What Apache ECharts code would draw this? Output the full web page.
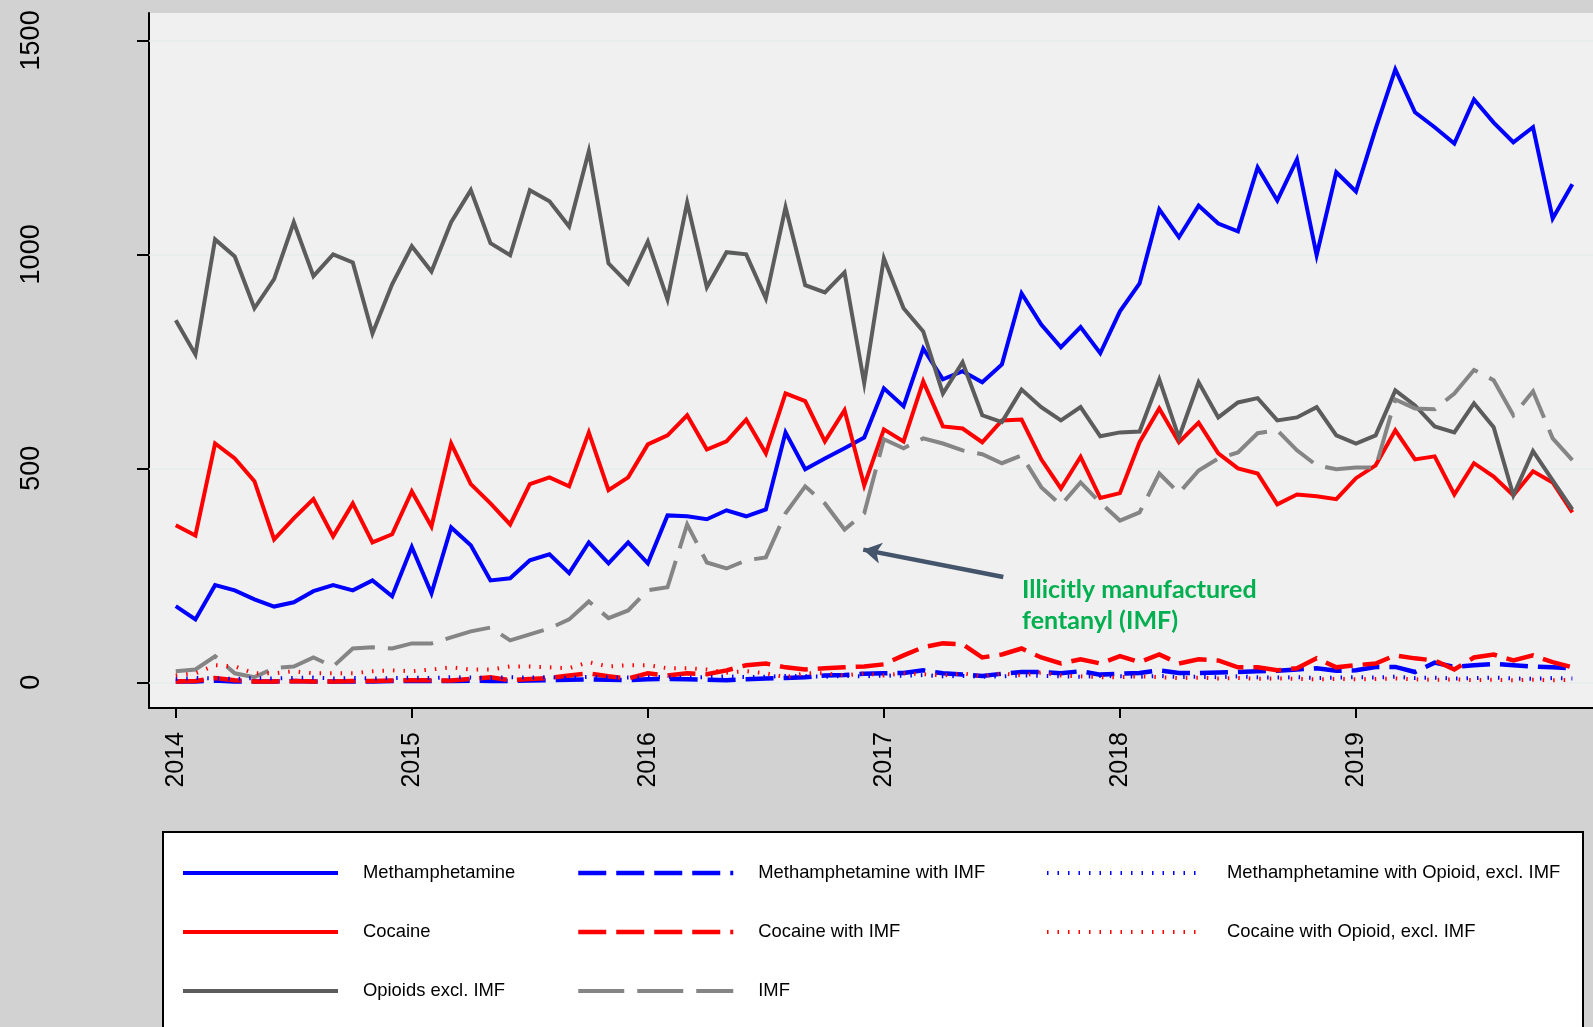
<!DOCTYPE html>
<html>
<head>
<meta charset="utf-8">
<script src="https://cdn.jsdelivr.net/npm/echarts@6/dist/echarts.min.js"></script>
<style>
  html, body { margin: 0; padding: 0; background: #d2d2d2; }
  #chart { width: 1593px; height: 1027px; }
</style>
</head>
<body>
<div id="chart"></div>
<script>
// monthly counts, Jan 2014 .. Dec 2019 (index 0..71)
const yearTicks = [0, 12, 24, 36, 48, 60];
const yearLabels = ["2014", "2015", "2016", "2017", "2018", "2019"];
const valueTicks = [0, 500, 1000, 1500];

const meth = [178, 147, 227, 215, 194, 177, 187, 213, 227, 215, 238, 201,
  316, 208, 362, 320, 238, 243, 285, 299, 255, 327, 278, 327,
  278, 390, 388, 381, 402, 388, 404, 584, 498, 523, 547, 572,
  687, 645, 780, 708, 727, 701, 743, 909, 836, 783, 830, 769,
  867, 932, 1105, 1040, 1114, 1072, 1054, 1203, 1126, 1222, 998, 1192,
  1147, 1294, 1432, 1332, 1297, 1259, 1362, 1308, 1262, 1297, 1084, 1164];

const cocaine = [367, 343, 558, 523, 470, 334, 383, 428, 341, 418, 327, 346,
  446, 364, 558, 463, 418, 369, 463, 479, 458, 584, 449, 479,
  556, 577, 624, 544, 563, 614, 535, 675, 657, 563, 636, 460,
  591, 563, 703, 598, 593, 561, 612, 614, 521, 453, 527, 431,
  442, 561, 640, 561, 607, 535, 500, 488, 416, 439, 435, 428,
  477, 507, 589, 521, 528, 439, 512, 481, 437, 493, 467, 397];

const opioids = [846, 766, 1035, 995, 874, 942, 1075, 949, 1000, 981, 815, 930,
  1019, 960, 1075, 1150, 1026, 998, 1150, 1124, 1065, 1241, 979, 932,
  1030, 895, 1121, 923, 1005, 1000, 897, 1110, 928, 911, 958, 699,
  991, 874, 820, 675, 748, 624, 608, 684, 643, 612, 643, 575,
  584, 586, 708, 572, 701, 619, 654, 664, 612, 619, 643, 577,
  558, 577, 682, 647, 598, 584, 652, 596, 437, 540, 472, 404];

const imf = [26, 30, 61, 21, 12, 33, 37, 58, 37, 79, 82, 79,
  91, 91, 105, 119, 128, 98, 112, 126, 147, 189, 150, 168,
  215, 222, 369, 280, 266, 285, 292, 395, 458, 418, 357, 395,
  568, 547, 570, 558, 542, 533, 512, 530, 456, 414, 467, 420,
  378, 397, 488, 442, 495, 523, 537, 582, 589, 542, 507, 498,
  502, 502, 661, 640, 638, 675, 730, 706, 624, 680, 570, 519];

const methImf = [2, 2, 4, 2, 2, 2, 3, 2, 2, 2, 2, 3,
  3, 3, 3, 4, 3, 3, 4, 5, 6, 7, 6, 5,
  7, 8, 7, 6, 5, 7, 9, 10, 12, 16, 17, 20,
  21, 22, 28, 21, 18, 15, 20, 24, 24, 21, 26, 18,
  20, 22, 28, 22, 22, 23, 24, 26, 27, 30, 33, 27,
  28, 36, 36, 24, 46, 36, 40, 43, 40, 37, 35, 33];

const cocaineImf = [2, 3, 10, 5, 2, 2, 3, 2, 2, 3, 3, 4,
  5, 5, 4, 8, 12, 5, 8, 10, 16, 21, 14, 9,
  21, 16, 21, 19, 28, 40, 44, 35, 30, 33, 35, 37,
  42, 63, 82, 91, 89, 58, 65, 79, 58, 44, 54, 44,
  61, 47, 65, 44, 54, 51, 35, 35, 28, 33, 56, 35,
  40, 44, 63, 56, 51, 30, 58, 65, 51, 63, 47, 35];

const methOpioid = [8, 10, 9, 8, 10, 9, 10, 11, 9, 10, 9, 10,
  11, 10, 12, 11, 10, 12, 11, 12, 10, 13, 12, 11,
  12, 13, 11, 12, 14, 12, 13, 15, 14, 13, 15, 14,
  16, 15, 17, 14, 15, 13, 14, 16, 15, 14, 13, 15,
  14, 13, 15, 12, 13, 12, 14, 12, 11, 12, 10, 11,
  12, 11, 13, 10, 11, 9, 10, 11, 9, 8, 10, 9];

const cocaineOpioid = [16, 21, 40, 37, 21, 21, 26, 21, 21, 21, 26, 28,
  26, 30, 35, 30, 30, 37, 37, 35, 33, 47, 37, 40,
  40, 33, 33, 30, 23, 26, 21, 12, 21, 21, 16, 21,
  16, 21, 19, 16, 21, 14, 21, 16, 23, 16, 14, 12,
  12, 14, 12, 10, 11, 9, 10, 8, 9, 8, 7, 8,
  7, 8, 9, 7, 6, 7, 5, 6, 5, 6, 5, 6];

// arrow annotation endpoints in data space [month index, value]
const arrowFrom = [42.07, 246];
const arrowTo = [34.95, 310];

const chart = echarts.init(document.getElementById("chart"));

const toPairs = arr => arr.map((v, i) => [i, v]);
const dash = [28, 10];
const longDash = [46, 13];
const dots = [1.5, 9];

const defs = [
  { name: "Methamphetamine", data: meth, color: "#0000ff", type: "solid", width: 4 },
  { name: "Cocaine", data: cocaine, color: "#ff0000", type: "solid", width: 4 },
  { name: "Opioids excl. IMF", data: opioids, color: "#5c5c5c", type: "solid", width: 4 },
  { name: "IMF", data: imf, color: "#858585", type: longDash, width: 4 },
  { name: "Methamphetamine with IMF", data: methImf, color: "#0000ff", type: dash, width: 4.5 },
  { name: "Cocaine with IMF", data: cocaineImf, color: "#ff0000", type: dash, width: 4.5 },
  { name: "Methamphetamine with Opioid, excl. IMF", data: methOpioid, color: "#0000ff", type: dots, width: 4 },
  { name: "Cocaine with Opioid, excl. IMF", data: cocaineOpioid, color: "#ff0000", type: dots, width: 4 }
];

const series = defs.map((d, idx) => ({
  name: d.name,
  type: "line",
  data: toPairs(d.data),
  symbol: "none",
  showSymbol: false,
  z: 10 + idx,
  itemStyle: { color: d.color },
  lineStyle: { color: d.color, width: d.width, type: d.type, cap: "butt", join: "miter" }
}));

// faint reference lines + arrow
series.push({
  name: "helper",
  type: "line",
  data: [],
  silent: true,
  z: 2,
  markLine: {
    silent: true,
    symbol: "none",
    label: { show: false },
    lineStyle: { color: "#e6eded", width: 1.5, type: "solid" },
    data: valueTicks.map(v => ({ yAxis: v }))
  }
});
series.push({
  name: "arrow",
  type: "line",
  data: [],
  silent: true,
  z: 30,
  markLine: {
    silent: true,
    symbol: ["none", "arrow"],
    symbolSize: [16, 18],
    label: { show: false },
    lineStyle: { color: "#44546a", width: 4.5, type: "solid" },
    data: [[{ coord: arrowFrom }, { coord: arrowTo }]]
  }
});

const legendBase = {
  orient: "vertical",
  top: 864,
  itemWidth: 155,
  itemHeight: 14,
  itemGap: 41,
  padding: 0,
  selectedMode: false,
  z: 5,
  itemStyle: { opacity: 0 },
  lineStyle: { width: "inherit" },
  textStyle: {
    fontFamily: "Liberation Sans, Arial, sans-serif",
    fontSize: 18.4,
    color: "#000",
    padding: [0, 0, 0, 20]
  }
};

chart.setOption({
  animation: false,
  backgroundColor: "#d2d2d2",
  textStyle: { fontFamily: "Liberation Sans, Arial, sans-serif" },
  grid: {
    left: 149, right: 0, top: 13, bottom: 319,
    show: true, backgroundColor: "#f0f0f0", borderWidth: 0
  },
  xAxis: {
    type: "value",
    min: -1.36,
    max: 72.05,
    axisLine: { onZero: false, lineStyle: { color: "#000", width: 2 } },
    axisTick: { customValues: yearTicks, length: 10, lineStyle: { color: "#000", width: 2 } },
    axisLabel: {
      customValues: yearTicks,
      rotate: 90,
      margin: 24,
      fontSize: 25,
      color: "#000",
      formatter: v => yearLabels[yearTicks.indexOf(v)]
    },
    splitLine: { show: false }
  },
  yAxis: {
    type: "value",
    min: -60,
    max: 1564,
    axisLine: { show: true, onZero: false, lineStyle: { color: "#000", width: 2 } },
    axisTick: { show: true, customValues: valueTicks, length: 12, lineStyle: { color: "#000", width: 2 } },
    axisLabel: {
      customValues: valueTicks,
      rotate: 90,
      margin: 104,
      fontSize: 27,
      color: "#000",
      formatter: v => String(v)
    },
    splitLine: { show: false }
  },
  legend: [
    Object.assign({}, legendBase, { left: 181, data: ["Methamphetamine", "Cocaine", "Opioids excl. IMF"] }),
    Object.assign({}, legendBase, { left: 576, data: ["Methamphetamine with IMF", "Cocaine with IMF", "IMF"] }),
    Object.assign({}, legendBase, { left: 1045, data: ["Methamphetamine with Opioid, excl. IMF", "Cocaine with Opioid, excl. IMF"] })
  ],
  graphic: [
    {
      type: "rect", z: 1,
      shape: { x: 163, y: 832, width: 1420, height: 220 },
      style: { fill: "#ffffff", stroke: "#000", lineWidth: 2 }
    },
    {
      type: "text", z: 40, left: 1022, top: 574,
      style: {
        text: "Illicitly manufactured\nfentanyl (IMF)",
        fill: "#00b050",
        font: "bold 25px Lato, 'Open Sans', sans-serif",
        lineHeight: 31
      }
    }
  ],
  series: series
});
</script>
</body>
</html>
